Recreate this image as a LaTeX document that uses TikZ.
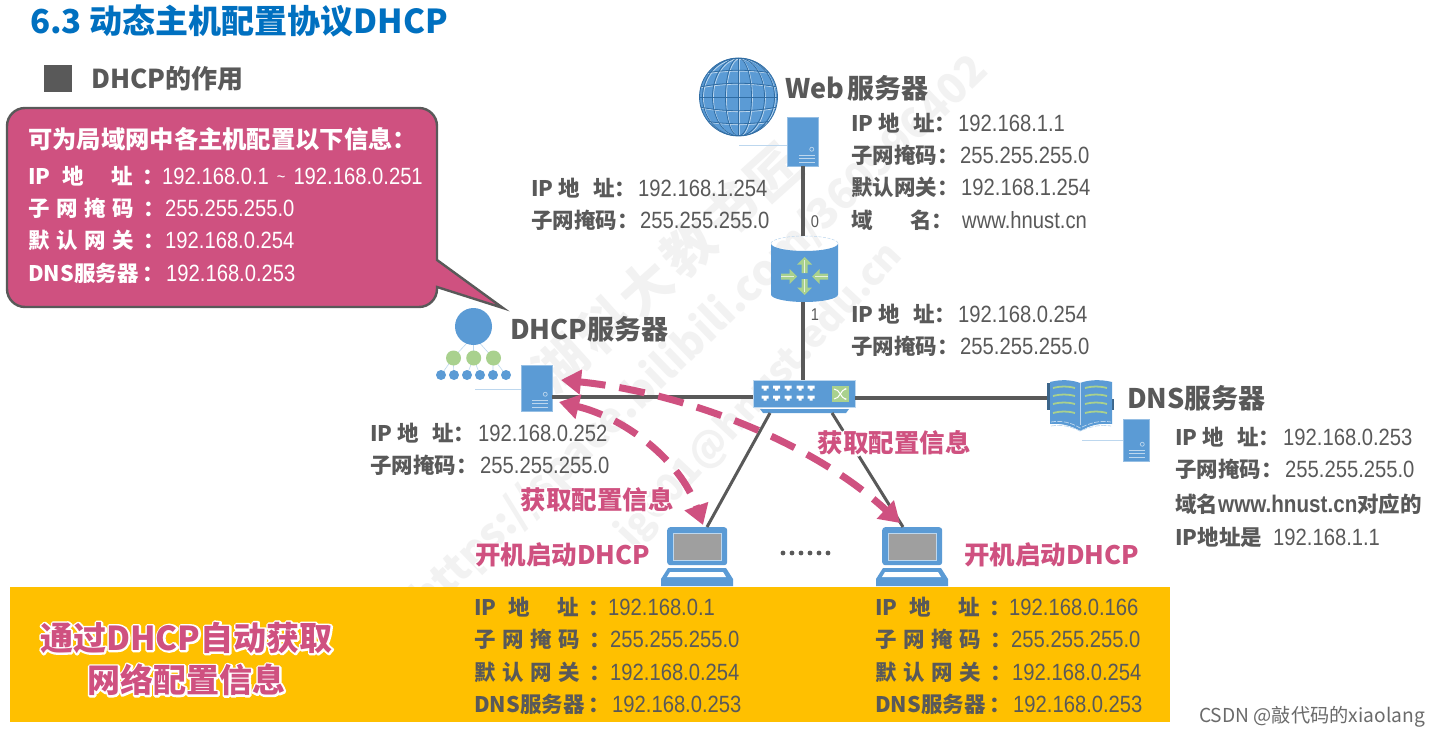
\documentclass[tikz,border=0pt]{standalone}
\usepackage{fontspec}
\usetikzlibrary{arrows.meta}
\setmainfont{Noto Sans CJK SC}
\newfontfamily\numf[FakeStretch=0.86]{Liberation Sans}
\definecolor{gt}{HTML}{595959}
\definecolor{bl}{HTML}{5B9BD5}
\definecolor{pk}{HTML}{CF5180}
\definecolor{gr}{HTML}{A9D18E}
\definecolor{org}{HTML}{FFC000}
\definecolor{pale}{HTML}{BDD7EE}
\definecolor{titleblue}{HTML}{0070C0}
\definecolor{wm}{HTML}{F2F2F2}
\definecolor{globeline}{HTML}{2F6CA3}
\newcommand{\halotext}[2]{\leavevmode\rlap{\special{pdf:code q 2 Tr #1 w 1 j 1 1 1 RG 1 1 1 rg}#2\special{pdf:code Q}}#2}
\newcommand{\IProw}{IP\hspace{.55em}地\hspace{1.3em}址\hspace{.45em}：}
\newcommand{\SUBrow}{子\hspace{.31em}网\hspace{.31em}掩\hspace{.31em}码\hspace{.45em}：}
\newcommand{\GWrow}{默\hspace{.31em}认\hspace{.31em}网\hspace{.31em}关\hspace{.45em}：}
\newcommand{\DNSrow}{DNS服务器\hspace{.18em}：}
\newcommand{\IPshort}{IP\hspace{.25em}地\hspace{.6em}址：}
\tikzset{
  lbl/.style={anchor=base west,inner sep=0pt,font=\fontsize{21.5}{24}\selectfont\bfseries,text=gt},
  val/.style={anchor=base west,inner sep=0pt,font=\fontsize{23.5}{26}\selectfont\numf,text=gt},
  wlbl/.style={lbl,text=white},
  wval/.style={val,text=white},
  head/.style={anchor=base west,inner sep=0pt,font=\fontsize{27}{30}\selectfont\bfseries,text=gt},
  halo/.style={anchor=center,inner sep=0pt,font=\fontsize{25.5}{28}\selectfont\bfseries,text=pk},
  bighalo/.style={anchor=center,inner sep=0pt,font=\fontsize{33}{36}\selectfont\bfseries,text=pk},
  link/.style={draw=gt,line width=3.6pt},
  thin link/.style={draw=pale,line width=.9pt},
  srv/.style={draw=pale!60!bl,line width=.5pt,fill=bl,inner sep=0pt},
  dasharrow/.style={draw=pk,line width=7pt,dash pattern=on 26pt off 14pt,
     {Triangle[length=20pt,width=24pt]}-{Triangle[length=20pt,width=24pt]}},
  ports/.style={fill=white,draw=none},
  watermark/.style={inner sep=0pt,text=wm,rotate=44,font=\fontsize{42}{44}\selectfont\bfseries},
}
\newcommand{\serverbox}[5]{% name, cx, cy, w, h
  \node[srv,minimum width=#4pt,minimum height=#5pt] (#1) at (#2,#3) {};
  \begin{scope}[shift={(#1.south east)}]
    \draw[pale,line width=.7pt] (-7,-17) circle (2);
    \draw[pale,line width=1.4pt] (-20,-11) -- (-4,-11) (-20,-7.5) -- (-4,-7.5) (-20,-4) -- (-4,-4);
  \end{scope}}
\newcommand{\bigarrow}[3]{% x, y, rot : tip pointing up in the local frame
  \begin{scope}[shift={(#1,#2)},rotate=#3]
    \fill[gr] (0,-8) -- (-7.5,-.5) -- (-3,-.5) -- (-3,8) -- (3,8) -- (3,-.5) -- (7.5,-.5) -- cycle;
    \draw[white!70!gr,line width=.6pt] (0,-5) -- (0,8);
  \end{scope}}
\newcommand{\laptop}[3]{% name, left x of base, top y of lid
  \node[draw=none,fill=bl,rounded corners=3pt,minimum width=60pt,minimum height=38pt,inner sep=0pt,anchor=north west] (#1) at (#2+6,#3) {};
  \fill[gray!75] (#2+12,#3+6) rectangle (#2+60,#3+33);
  \draw[pale,line width=.6pt] (#2+12,#3+6) rectangle (#2+60,#3+33);
  \fill[bl] (#2+7,#3+41) -- (#2+65,#3+41) -- (#2+72,#3+52) -- (#2+72,#3+59) -- (#2,#3+59) -- (#2,#3+52) -- cycle;
  \fill[white] (#2+9,#3+45) -- (#2+62,#3+45) -- (#2+65,#3+50) -- (#2+6,#3+50) -- cycle;}
\newcommand{\bookline}[2]{\draw[gr,line width=1.8pt] (#1,#2) .. controls (#1+8,#2-2) and (#1+14,#2-2) .. (#1+22,#2);}
\begin{document}
\begin{tikzpicture}[x=1pt,y=-1pt]
\useasboundingbox (0,0) rectangle (1439,735);
\fill[white] (0,0) rectangle (1439,735);

% watermark
\node[watermark] (wmone) at (700,335) {https://space.bilibili.com/360996402};
\node[watermark,rotate=3,font=\fontsize{38}{40}\selectfont\bfseries] (wmtwo) at (760,395) {jg001@hnust.edu.cn};
\node[watermark,rotate=-2,font=\fontsize{52}{54}\selectfont\bfseries] (wmthree) at (667,268) {湖\hspace{.1em}科\hspace{.1em}大\hspace{.1em}教\hspace{.1em}书\hspace{.1em}匠};

% orange band
\node[fill=org,draw=none,minimum width=1160pt,minimum height=135pt,inner sep=0pt,anchor=north west] (band) at (10,587) {};

% title
\node[anchor=base west,inner sep=0pt,font=\fontsize{33}{36}\selectfont\bfseries,text=titleblue] (title) at (30,34) {6.3 动态主机配置协议DHCP};
\node[fill=gt,minimum width=28pt,minimum height=27pt,inner sep=0pt,anchor=north west] (bullet) at (44,65) {};
\node[head,font=\fontsize{26}{28}\selectfont\bfseries] (sub) at (91,89) {DHCP的作用};

% callout
\path[draw=gt,line width=2.4pt,fill=pk]
  (25,108) -- (419,108) arc[start angle=-90,end angle=0,radius=18] -- (437,260) -- (503,308) -- (437,287) -- (437,289) arc[start angle=0,end angle=90,radius=18] -- (25,307) arc[start angle=90,end angle=180,radius=18] -- (7,126) arc[start angle=180,end angle=270,radius=18] -- cycle;
\node[anchor=base west,inner sep=0pt,font=\fontsize{24.3}{26}\selectfont\bfseries,text=white] (cap) at (28,149) {可为局域网中各主机配置以下信息：};
\node[wlbl] (c1) at (28,185) {\IProw};
\node[wval] (c1v) at (162,185) {192.168.0.1\hspace{8pt}\raisebox{2pt}{\fontsize{17}{18}\selectfont\~{}}\hspace{8pt}192.168.0.251};
\node[wlbl] (c2) at (28,217) {\SUBrow};
\node[wval] (c2v) at (165,217) {255.255.255.0};
\node[wlbl] (c3) at (28,249) {\GWrow};
\node[wval] (c3v) at (165,249) {192.168.0.254};
\node[wlbl] (c4) at (28,281) {\DNSrow};
\node[wval] (c4v) at (166,281) {192.168.0.253};

% globe
\begin{scope}
  \clip (738.5,97) circle (39);
  \fill[bl] (738.5,97) circle (39);
  \begin{scope}[shift={(739.4,97.9)},pale,line width=.8pt]
    \foreach \r in {13,26,36} {\draw (0,0) ellipse ({\r} and 39);}
    \draw (0,-39) -- (0,39) (-39,0) -- (39,0);
    \foreach \d in {13,26} {
      \draw (-39,\d-3) .. controls (-13,\d+2) and (13,\d+2) .. (39,\d-3);
      \draw (-39,-\d+3) .. controls (-13,-\d-2) and (13,-\d-2) .. (39,-\d+3);}
  \end{scope}
  \begin{scope}[shift={(738.5,97)},line width=.8pt]
    \foreach \r in {13,26,36} {\draw[globeline] (0,0) ellipse ({\r} and 39);}
    \draw[globeline] (0,-39) -- (0,39) (-39,0) -- (39,0);
    \foreach \d in {13,26} {
      \draw[globeline] (-39,\d-3) .. controls (-13,\d+2) and (13,\d+2) .. (39,\d-3);
      \draw[globeline] (-39,-\d+3) .. controls (-13,-\d-2) and (13,-\d-2) .. (39,-\d+3);}
  \end{scope}
\end{scope}
\draw[globeline,line width=.8pt] (738.5,97) circle (39);
\coordinate (webicon) at (739,145);
\serverbox{websrv}{803}{141.5}{31}{49}
\draw[thin link] (webicon) -- (websrv.west |- webicon);

% router
\node[draw=none,fill=none,minimum width=67pt,minimum height=66pt,inner sep=0pt] (router) at (804.5,269) {};
\fill[bl] (771,243.5) arc[start angle=180,end angle=0,x radius=33.5,y radius=7.5]
   -- (838,294.5) arc[start angle=0,end angle=180,x radius=33.5,y radius=7.5] -- cycle;
\draw[pale,line width=.5pt,dash pattern=on 3pt off 1.5pt] (771,243.5) arc[start angle=180,end angle=360,x radius=33.5,y radius=7.5];
\bigarrow{804.5}{265}{0}
\bigarrow{804.5}{287}{180}
\bigarrow{789}{276.5}{-90}
\bigarrow{820}{276.5}{90}

% switch
\node[fill=bl,draw=pale,line width=.5pt,minimum width=102pt,minimum height=27pt,inner sep=0pt] (switch) at (804,393.5) {};
\fill[bl] (760,409) -- (849,409) -- (846,413) -- (763,413) -- cycle;
\coordinate (swl) at (770,413);
\coordinate (swr) at (832,413);
\foreach \px in {765,776.5,788,800,811} {
  \foreach \py in {388,398} {
    \fill[ports] (\px-3.5,\py-2.5) -- (\px+3.5,\py-2.5) -- (\px+3.5,\py+.5) -- (\px+1.5,\py+.5) -- (\px+1.5,\py+2.5) -- (\px-1.5,\py+2.5) -- (\px-1.5,\py+.5) -- (\px-3.5,\py+.5) -- cycle;
}}
\fill[gr] (832,386) rectangle (849,402);
\draw[white,line width=1pt,-{Stealth[length=2.5pt]}] (834,389) .. controls (840,389) and (841,399) .. (847,399);
\draw[white,line width=1pt,-{Stealth[length=2.5pt]}] (834,399) .. controls (840,399) and (841,389) .. (847,389);

% DHCP icon
\draw[thin link,line width=.6pt] (473.5,336) -- (453,358) (473.5,336) -- (473.5,358) (473.5,336) -- (493,358)
  (453,358) -- (441,375) (453,358) -- (454,375) (473.5,358) -- (467,375) (473.5,358) -- (480,375) (493,358) -- (493,375) (493,358) -- (506,375);
\fill[bl] (473.5,326.5) circle (18.5);
\foreach \gx in {453.5,473.7,493.5} {\fill[gr] (\gx,358) circle (7.5);}
\foreach \gx in {441,454,467,480,493,506} {\fill[bl] (\gx,375) circle (5);}
\coordinate (dhcpicon) at (475,389);
\serverbox{dhcpsrv}{536.5}{388}{31}{46}
\draw[thin link] (dhcpicon) -- (dhcpsrv.west |- dhcpicon);

% DNS book
\node[inner sep=0pt,minimum width=67pt,minimum height=52pt] (book) at (1080.5,406) {};
\fill[bl!65!black] (1047,383) rectangle (1050,410);
\fill[bl!65!black] (1111,399) rectangle (1114,410);
\fill[bl] (1050,382) .. controls (1062,379) and (1072,380) .. (1080,383) .. controls (1088,380) and (1100,379) .. (1112,382)
  -- (1112,424) .. controls (1100,423) and (1090,425) .. (1080.5,431) .. controls (1070,425) and (1060,423) .. (1050,424) -- cycle;
\draw[pale,line width=.6pt] (1080.5,383) -- (1080.5,425);
\foreach \ly in {388,396,404,413} {
  \bookline{1053}{\ly}
  \bookline{1085}{\ly}
}
\draw[pale,line width=.7pt,dash pattern=on 5pt off 1.5pt] (1051,422) .. controls (1062,420) and (1072,423) .. (1080,428) .. controls (1090,423) and (1100,420) .. (1111,422);
\draw[pale,line width=.7pt,dash pattern=on 5pt off 1.5pt] (1051,426) .. controls (1062,424) and (1072,427) .. (1080,431) .. controls (1090,427) and (1100,424) .. (1111,426);
\coordinate (dnsicon) at (1082,440.5);
\serverbox{dnssrv}{1136}{440}{26}{42}
\draw[thin link] (dnsicon) -- (dnssrv.west |- dnsicon);

% laptops
\laptop{pca}{661}{527}
\laptop{pcb}{876}{527}
\coordinate (pcaport) at (707,527);
\coordinate (pcbport) at (903,527);

% links
\draw[link] (websrv.south) -- (websrv.south |- router.north);
\draw[link] (websrv.south |- router.south) -- (websrv.south |- switch.north);
\draw[link] (dhcpsrv.east |- 0,397) -- (switch.west |- 0,397);
\draw[link] (switch.east |- 0,398) -- (book.west |- 0,398);
\draw[draw=gt,line width=3pt] (swl) -- (pcaport);
\draw[draw=gt,line width=3pt] (swr) -- (pcbport);

% dots
\foreach \dx in {783,792,801,810,819,828} {\fill[gt] (\dx,553) circle (2.4);}

% interface numbers
\node[inner sep=0pt,font=\fontsize{17}{18}\selectfont\numf,text=gt] (if0) at (815,222) {0};
\node[inner sep=0pt,font=\fontsize{17}{18}\selectfont\numf,text=gt] (if1) at (815,315) {1};

% headings
\node[head] (webh) at (785,99) {Web\hspace{3.5pt}服务器};
\node[head] (dhcph) at (510,339) {DHCP服务器};
\node[head] (dnsh) at (1127,408) {DNS服务器};

% address blocks
\node[lbl] (w1) at (851,132) {\IPshort};
\node[val] (w1v) at (958,132) {192.168.1.1};
\node[lbl] (w2) at (851,164) {子网掩码：};
\node[val] (w2v) at (960,164) {255.255.255.0};
\node[lbl] (w3) at (851,196) {默认网关：};
\node[val] (w3v) at (961,196) {192.168.1.254};
\node[lbl] (w4) at (851,229) {域\hspace{1.75em}名：};
\node[val] (w4v) at (962,229) {www.hnust.cn};

\node[lbl] (l1) at (531,197) {\IPshort};
\node[val] (l1v) at (638,197) {192.168.1.254};
\node[lbl] (l2) at (531,229) {子网掩码：};
\node[val] (l2v) at (640,229) {255.255.255.0};

\node[lbl] (r1) at (851,322) {\IPshort};
\node[val] (r1v) at (958,322) {192.168.0.254};
\node[lbl] (r2) at (851,354) {子网掩码：};
\node[val] (r2v) at (960,354) {255.255.255.0};

\node[lbl] (d1) at (370,441) {\IPshort};
\node[val] (d1v) at (478,441) {192.168.0.252};
\node[lbl] (d2) at (370,473) {子网掩码：};
\node[val] (d2v) at (480,473) {255.255.255.0};

\node[lbl] (n1) at (1175,445) {\IPshort};
\node[val] (n1v) at (1283,445) {192.168.0.253};
\node[lbl] (n2) at (1175,477) {子网掩码：};
\node[val] (n2v) at (1285,477) {255.255.255.0};
\node[lbl] (n3) at (1175,512) {域名{\numf\fontsize{24}{26}\selectfont www.hnust.cn}对应的};
\node[lbl] (n4) at (1175,545) {IP地址是};
\node[val] (n4v) at (1273,545) {192.168.1.1};

% client blocks
\node[lbl] (a1) at (474,615) {\IProw};
\node[val] (a1v) at (608,615) {192.168.0.1};
\node[lbl] (a2) at (474,647) {\SUBrow};
\node[val] (a2v) at (610,647) {255.255.255.0};
\node[lbl] (a3) at (474,680) {\GWrow};
\node[val] (a3v) at (610,680) {192.168.0.254};
\node[lbl] (a4) at (474,712) {\DNSrow};
\node[val] (a4v) at (612,712) {192.168.0.253};

\node[lbl] (b1) at (875,615) {\IProw};
\node[val] (b1v) at (1009,615) {192.168.0.166};
\node[lbl] (b2) at (875,647) {\SUBrow};
\node[val] (b2v) at (1011,647) {255.255.255.0};
\node[lbl] (b3) at (875,680) {\GWrow};
\node[val] (b3v) at (1012,680) {192.168.0.254};
\node[lbl] (b4) at (875,712) {\DNSrow};
\node[val] (b4v) at (1013,712) {192.168.0.253};

% dashed double arrows
\coordinate (tipA) at (561,380);
\coordinate (tipB) at (559,402);
\coordinate (tipC) at (703,525);
\coordinate (tipD) at (900,523);
\draw[dasharrow] (tipA) .. controls (680,392) and (810,440) .. (tipD);
\draw[dasharrow] (tipB) .. controls (625,418) and (680,460) .. (tipC);

% halo labels
\node[halo] (get1) at (597,500) {\halotext{3.4}{获取配置信息}};
\node[halo] (get2) at (894,443) {\halotext{3.4}{获取配置信息}};
\node[halo] (boot1) at (562.5,555) {\halotext{3.4}{开机启动DHCP}};
\node[halo] (boot2) at (1051.5,555) {\halotext{3.4}{开机启动DHCP}};
\node[bighalo] (big1) at (186.5,638) {\halotext{3.8}{通过DHCP自动获取}};
\node[bighalo] (big2) at (186.5,680) {\halotext{3.8}{网络配置信息}};

% credit
\node[anchor=base west,inner sep=0pt,font=\fontsize{19.2}{21}\selectfont,text=gt!90] (csdn) at (1199,722) {CSDN @敲代码的xiaolang};
\end{tikzpicture}
\end{document}
